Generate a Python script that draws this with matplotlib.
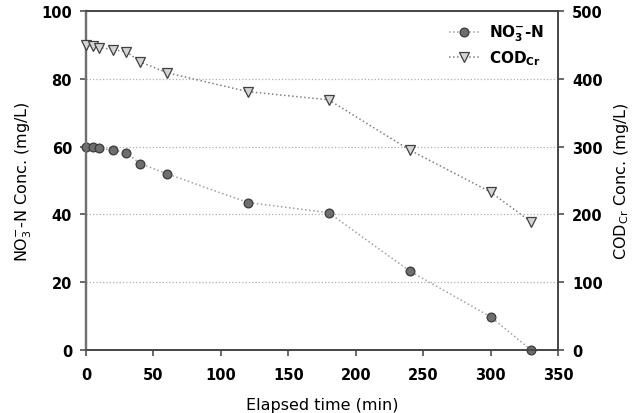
import matplotlib
matplotlib.use("Agg")
import matplotlib.pyplot as plt

time_min = [0, 5, 10, 20, 30, 40, 60, 120, 180, 240, 300, 330]
no3_n = [60, 60, 59.5, 59, 58.2, 55, 52, 43.5, 40.5, 23.3, 9.8, 0]
cod_cr = [450, 448, 446, 443, 440, 425, 409, 381, 369, 295, 233, 189]

plt.rcParams['font.family'] = ['DejaVu Sans']
fig = plt.figure(figsize=(6.43, 4.14), dpi=100)
ax = fig.add_axes([86/643, 1-351/414, (558-86)/643, (351-12)/414])
ax2 = ax.twinx()

l1, = ax.plot(time_min, no3_n, linestyle=':', color='#a0a0a0', lw=1.1,
              marker='o', markersize=6.3, markerfacecolor='#6e6e6e',
              markeredgecolor='#3a3a3a', markeredgewidth=0.9, zorder=3, clip_on=False)
l2, = ax2.plot(time_min, cod_cr, linestyle=':', color='#808080', lw=1.1,
               marker='v', markersize=6.8, markerfacecolor='#d4d4d4',
               markeredgecolor='#404040', markeredgewidth=0.9, zorder=3, clip_on=False)

ax.set_xlim(0, 350)
ax.set_ylim(0, 100)
ax2.set_ylim(0, 500)
ax.set_xticks(range(0, 351, 50))
ax.set_yticks(range(0, 101, 20))
ax2.set_yticks(range(0, 501, 100))
ax.yaxis.grid(True, linestyle=':', color='#b0b0b0', lw=0.9)
ax.set_axisbelow(True)

for a in (ax, ax2):
    for lab in a.get_xticklabels() + a.get_yticklabels():
        lab.set_fontweight('bold')
        lab.set_fontsize(10.5)
    a.tick_params(direction='out', length=4, width=1.1, color='#404040', pad=6)
    for s in a.spines.values():
        s.set_color('#404040')
        s.set_linewidth(1.1)
ax.tick_params(axis='x', pad=8)
ax.spines['left'].set_color('#707070')
ax.spines['left'].set_linewidth(1.6)
ax2.spines['left'].set_color('#707070')
ax2.spines['left'].set_linewidth(1.6)

ax.set_xlabel('Elapsed time (min)', fontsize=11.5, labelpad=11)
ax.set_ylabel(r'NO$_3^{-}$-N Conc. (mg/L)', fontsize=11.5, labelpad=5)
ax2.set_ylabel(r'COD$_{\mathrm{Cr}}$ Conc. (mg/L)', fontsize=11.5, labelpad=7)

leg = ax.legend([l1, l2], [r'NO$_\mathbf{3}^{\mathbf{-}}$-N', r'COD$_\mathbf{Cr}$'],
                loc='upper right', frameon=False, prop={'weight': 'bold', 'size': 11},
                handlelength=2.0, handletextpad=0.6, borderaxespad=0.0,
                labelspacing=0.35, borderpad=0.0,
                bbox_to_anchor=(0.97, 0.965))

fig.savefig('out.png', dpi=100)
